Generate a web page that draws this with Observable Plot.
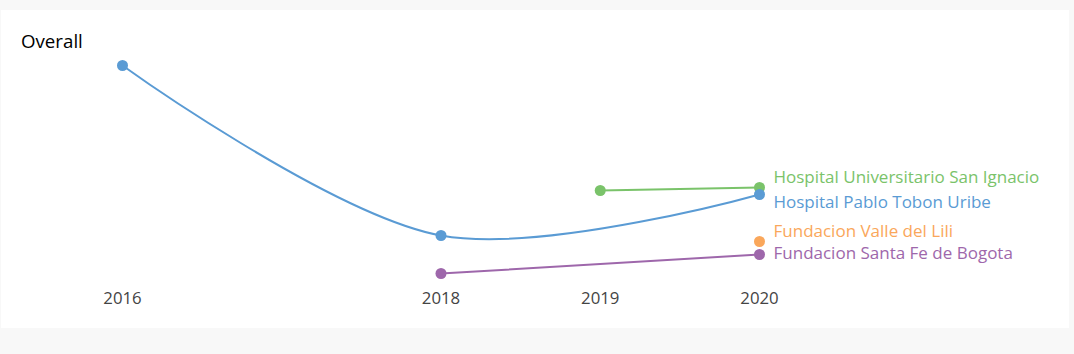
<!DOCTYPE html>
<html>
<head>
<meta charset="utf-8">
<script src="https://cdn.jsdelivr.net/npm/d3@7"></script>
<script src="https://cdn.jsdelivr.net/npm/@observablehq/plot@0.6"></script>
<style>
  html, body { margin: 0; padding: 0; background: #f8f8f8; width: 1074px; height: 354px; overflow: hidden; }
  #card { position: absolute; left: 1px; top: 10px; width: 1068px; height: 318px; background: #ffffff; }
  #title { position: absolute; left: 20px; top: 18px; font-family: "Open Sans", sans-serif; font-size: 18.7px; color: #000; line-height: normal; z-index: 2; }
  #chart { position: absolute; left: 0; top: 0; }
</style>
</head>
<body>
<div id="card">
  <div id="title">Overall</div>
  <div id="chart"></div>
</div>
<script>
// ---- data ----
const tickYears = [2016, 2018, 2019, 2020];
const seriesNames = [
  "Hospital Universitario San Ignacio",
  "Hospital Pablo Tobon Uribe",
  "Fundacion Valle del Lili",
  "Fundacion Santa Fe de Bogota"
];
const seriesColors = ["#7ac36a", "#5a9bd4", "#faa75b", "#9e67ab"];

const sanIgnacioYears = [2019, 2020];
const sanIgnacioValues = [63.0, 63.6];

const pabloTobonYears = [2016, 2018, 2020];
const pabloTobonValues = [88.0, 54.0, 62.2];

const valleLiliYears = [2020];
const valleLiliValues = [52.8];

const santaFeYears = [2018, 2020];
const santaFeValues = [46.4, 50.2];

// ---- build table ----
const seriesData = [
  [seriesNames[0], sanIgnacioYears, sanIgnacioValues],
  [seriesNames[1], pabloTobonYears, pabloTobonValues],
  [seriesNames[2], valleLiliYears, valleLiliValues],
  [seriesNames[3], santaFeYears, santaFeValues]
];
const rows = [];
for (const [name, ys, vs] of seriesData) {
  ys.forEach((yr, i) => rows.push({name, year: yr, value: vs[i]}));
}
const lastRows = seriesData.map(([name, ys, vs]) => ({name, year: ys[ys.length - 1], value: vs[vs.length - 1]}));

// label vertical nudges (style only)
const labelDy = {
  "Hospital Universitario San Ignacio": -10,
  "Hospital Pablo Tobon Uribe": 8,
  "Fundacion Valle del Lili": -10,
  "Fundacion Santa Fe de Bogota": -1
};

const labelMarks = lastRows.map(r => Plot.text([r], {
  x: "year", y: "value", text: "name", fill: "name",
  textAnchor: "start", dx: 14, dy: labelDy[r.name], fontSize: 17
}));

const chart = Plot.plot({
  width: 1068,
  height: 318,
  marginBottom: 40,
  style: { fontFamily: "Open Sans, sans-serif", fontSize: "16.8px", color: "#444", background: "transparent", overflow: "visible" },
  x: { domain: [2016, 2020], range: [121, 758] },
  y: { domain: [40, 90], range: [295, 45], axis: null },
  color: { domain: seriesNames, range: seriesColors },
  marks: [
    Plot.axisX({ ticks: tickYears, tickFormat: d => String(d), tickSize: 0, tickPadding: 4, label: null, fill: "#444", fontSize: 16.8 }),
    Plot.line(rows, { x: "year", y: "value", z: "name", stroke: "name", strokeWidth: 2, curve: "catmull-rom" }),
    Plot.dot(rows, { x: "year", y: "value", fill: "name", r: 5.5 }),
    ...labelMarks
  ]
});
document.getElementById("chart").appendChild(chart);
</script>
</body>
</html>
